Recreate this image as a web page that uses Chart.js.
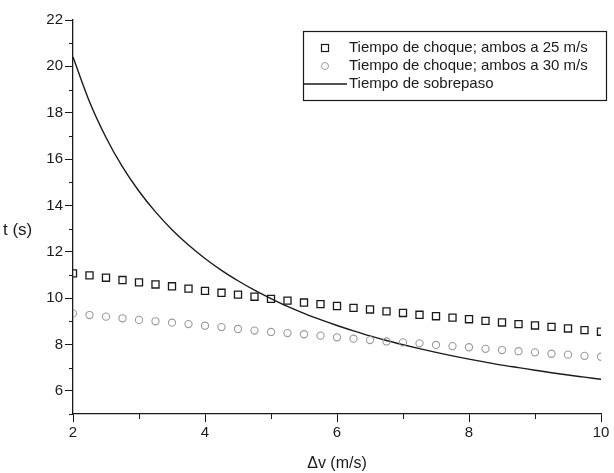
<!DOCTYPE html>
<html>
<head>
<meta charset="utf-8">
<script src="https://cdn.jsdelivr.net/npm/chart.js@4.4.0/dist/chart.umd.min.js"></script>
<style>
html, body { margin: 0; padding: 0; background: #fff; }
#wrap { width: 614px; height: 473px; position: relative; }
</style>
</head>
<body>
<div id="wrap"><canvas id="grafico"></canvas></div>
<script>
// valores (Δv en m/s, t en s)
const deltaV = [2, 2.25, 2.5, 2.75, 3, 3.25, 3.5, 3.75, 4, 4.25, 4.5, 4.75, 5, 5.25, 5.5, 5.75,
    6, 6.25, 6.5, 6.75, 7, 7.25, 7.5, 7.75, 8, 8.25, 8.5, 8.75, 9, 9.25, 9.5, 9.75, 10];
const choque25 = [11.07, 10.98, 10.88, 10.78, 10.68, 10.59, 10.51, 10.41, 10.31, 10.23, 10.15, 10.06,
    9.97, 9.89, 9.81, 9.74, 9.66, 9.58, 9.51, 9.43, 9.36, 9.28, 9.22, 9.16, 9.09, 9.02, 8.95, 8.88,
    8.82, 8.76, 8.69, 8.62, 8.55];
const choque30 = [9.34, 9.27, 9.20, 9.13, 9.06, 9.00, 8.94, 8.88, 8.81, 8.75, 8.67, 8.60, 8.54, 8.49,
    8.44, 8.38, 8.31, 8.25, 8.19, 8.13, 8.09, 8.05, 7.98, 7.93, 7.88, 7.81, 7.76, 7.71, 7.66, 7.60,
    7.56, 7.51, 7.47];
const sobrepaso = [20.40, 18.47, 16.93, 15.66, 14.61, 13.72, 12.95, 12.29, 11.71, 11.20, 10.75, 10.34,
    9.98, 9.64, 9.34, 9.07, 8.82, 8.59, 8.37, 8.17, 7.99, 7.82, 7.66, 7.51, 7.37, 7.24, 7.11, 7.00,
    6.89, 6.78, 6.68, 6.59, 6.50];

const xTicks = [2, 4, 6, 8, 10];
const xMinorTicks = [3, 5, 7, 9];
const yTicks = [6, 8, 10, 12, 14, 16, 18, 20, 22];
const yMinorTicks = [5, 7, 9, 11, 13, 15, 17, 19, 21];

const etiquetas = [
    "Tiempo de choque; ambos a 25 m/s",
    "Tiempo de choque; ambos a 30 m/s",
    "Tiempo de sobrepaso"
];

const negro = "#1a1a1a";
const gris = "#9a9a9a";
const fuente = "'Liberation Sans', Arial, sans-serif";

function puntos(ys) {
    return deltaV.map((x, i) => ({ x: x, y: ys[i] }));
}

// marcas menores, título del eje y y leyenda con recuadro
const extras = {
    id: "extras",
    afterDraw(chart) {
        const ctx = chart.ctx;
        const xs = chart.scales.x;
        const ys = chart.scales.y;
        ctx.save();
        ctx.strokeStyle = negro;
        ctx.lineWidth = 1;
        ctx.beginPath();
        yMinorTicks.forEach(v => {
            const py = Math.round(ys.getPixelForValue(v)) + 0.5;
            ctx.moveTo(xs.left - 4, py);
            ctx.lineTo(xs.left, py);
        });
        xMinorTicks.forEach(v => {
            const px = Math.round(xs.getPixelForValue(v)) + 0.5;
            ctx.moveTo(px, ys.bottom);
            ctx.lineTo(px, ys.bottom + 5);
        });
        ctx.stroke();

        ctx.fillStyle = negro;
        ctx.font = "17px " + fuente;
        ctx.textAlign = "left";
        ctx.textBaseline = "middle";
        ctx.fillText("t (s)", 3, 230);

        // leyenda
        ctx.lineWidth = 1.2;
        ctx.strokeRect(303.5, 31.5, 303, 69);
        ctx.font = "15px " + fuente;
        const filas = [48, 66, 84];
        ctx.strokeRect(321.5, filas[0] - 3.5, 7, 7);
        ctx.strokeStyle = gris;
        ctx.lineWidth = 1;
        ctx.beginPath();
        ctx.arc(325, filas[1], 3.5, 0, Math.PI * 2);
        ctx.stroke();
        ctx.strokeStyle = negro;
        ctx.lineWidth = 1.3;
        ctx.beginPath();
        ctx.moveTo(304, filas[2]);
        ctx.lineTo(347, filas[2]);
        ctx.stroke();
        etiquetas.forEach((t, i) => ctx.fillText(t, 349, filas[i]));
        ctx.restore();
    }
};

new Chart(document.getElementById("grafico"), {
    type: "scatter",
    data: {
        datasets: [
            {
                label: etiquetas[0],
                data: puntos(choque25),
                pointStyle: "rect",
                pointRadius: 5,
                pointBorderColor: negro,
                pointBackgroundColor: "rgba(0,0,0,0)",
                pointBorderWidth: 1.3,
                showLine: false,
                clip: 0
            },
            {
                label: etiquetas[1],
                data: puntos(choque30),
                pointStyle: "circle",
                pointRadius: 3.6,
                pointBorderColor: gris,
                pointBackgroundColor: "rgba(0,0,0,0)",
                pointBorderWidth: 1.1,
                showLine: false,
                clip: 0
            },
            {
                label: etiquetas[2],
                data: puntos(sobrepaso),
                showLine: true,
                borderColor: negro,
                borderWidth: 1.4,
                pointRadius: 0,
                cubicInterpolationMode: "monotone",
                clip: 0
            }
        ]
    },
    options: {
        responsive: true,
        maintainAspectRatio: false,
        animation: false,
        layout: { padding: { top: 20, right: 13, left: 0, bottom: 0 } },
        plugins: {
            legend: { display: false },
            tooltip: { enabled: false }
        },
        scales: {
            x: {
                type: "linear",
                min: 2,
                max: 10,
                afterBuildTicks: s => { s.ticks = xTicks.map(v => ({ value: v })); },
                afterFit: s => { s.height = 59; },
                border: { display: true, color: negro, width: 1.3 },
                grid: { drawOnChartArea: false, drawTicks: true, tickLength: 8, color: negro },
                ticks: {
                    color: negro,
                    padding: 2,
                    maxRotation: 0,
                    font: { family: fuente, size: 15 }
                },
                title: {
                    display: true,
                    text: "\u0394v (m/s)",
                    color: negro,
                    font: { family: fuente, size: 16 },
                    padding: { top: 4, bottom: 0 }
                }
            },
            y: {
                type: "linear",
                min: 5,
                max: 22,
                afterBuildTicks: s => { s.ticks = yTicks.map(v => ({ value: v })); },
                afterFit: s => { s.width = 73; },
                border: { display: true, color: negro, width: 1.3 },
                grid: { drawOnChartArea: false, drawTicks: true, tickLength: 8, color: negro },
                ticks: {
                    color: negro,
                    padding: 2,
                    font: { family: fuente, size: 15 }
                }
            }
        }
    },
    plugins: [extras]
});
</script>
</body>
</html>
